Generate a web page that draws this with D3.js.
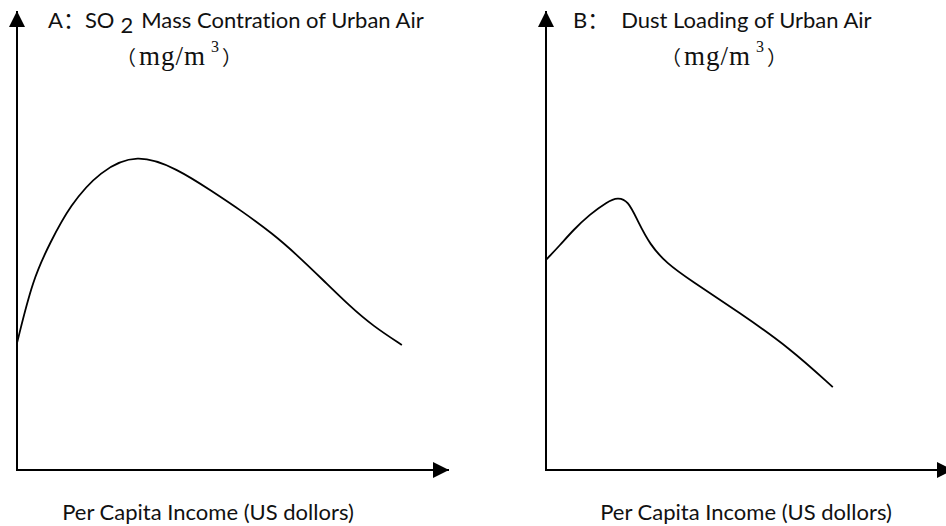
<!DOCTYPE html>
<html>
<head>
<meta charset="utf-8">
<script src="https://cdn.jsdelivr.net/npm/d3@7"></script>
<style>
  body { margin: 0; background: #fff; }
  .lbl { font-family: Lato, "Open Sans", sans-serif; font-size: 22px; fill: #111; font-variant-ligatures: none; }
  .unit { font-family: "Liberation Serif", "Times New Roman", serif; font-size: 27px; fill: #111; }
  .cjk { font-family: "Noto Sans CJK SC", sans-serif; }
</style>
</head>
<body>
<script>
// Panel A: SO2 mass concentration vs per capita income (arbitrary units, 0-100)
const incomeA = [0, 3.7, 7.7, 12.3, 19.3, 27.9, 37.2, 45.6, 51.9, 59.5, 65.1, 71.2, 77.4, 82.8, 89.5];
const so2A    = [28.2, 42.5, 50.5, 58.8, 66.5, 70.4, 67, 61.8, 57.8, 52.5, 47.8, 42.2, 36.4, 32, 27.8];

// Panel B: dust loading vs per capita income
const incomeB = [0, 3.3, 6.3, 10.2, 14.2, 16.7, 19.1, 21.2, 24.2, 28.1, 33.5, 45.1, 56.7, 66.7];
const dustB   = [46.7, 50, 53.3, 56.8, 59.6, 60.6, 59.8, 55.6, 50, 45.9, 42.2, 34.9, 27.1, 18.4];

const xLabel = 'Per Capita Income (US dollors)';

const width = 946, height = 526;
const svg = d3.select('body').append('svg')
    .attr('width', width)
    .attr('height', height);

svg.append('defs').append('marker')
    .attr('id', 'arrow')
    .attr('viewBox', '0 0 10 10')
    .attr('refX', 10).attr('refY', 5)
    .attr('markerUnits', 'userSpaceOnUse')
    .attr('markerWidth', 16).attr('markerHeight', 16)
    .attr('orient', 'auto')
    .append('path')
    .attr('d', 'M0,0 L10,5 L0,10 Z')
    .attr('fill', '#000');

const pxPerUnit = 4.3;
const yScale = d3.scaleLinear().domain([0, 100]).range([470, 20]);

function drawPanel(x0, axisEnd, xs, ys, titleParts, titleX, unitX, labelX) {
    const xScale = d3.scaleLinear().domain([0, 100]).range([x0, x0 + 100 * pxPerUnit]);
    const g = svg.append('g');

    // axes with arrows
    g.append('line')
        .attr('x1', x0).attr('y1', yScale(0))
        .attr('x2', x0).attr('y2', 11)
        .attr('stroke', '#000').attr('stroke-width', 2)
        .attr('marker-end', 'url(#arrow)');
    g.append('line')
        .attr('x1', x0 - 1).attr('y1', yScale(0))
        .attr('x2', axisEnd).attr('y2', yScale(0))
        .attr('stroke', '#000').attr('stroke-width', 2)
        .attr('marker-end', 'url(#arrow)');

    const pts = xs.map((v, i) => [v, ys[i]]);
    const line = d3.line()
        .x(d => xScale(d[0]))
        .y(d => yScale(d[1]))
        .curve(d3.curveBasis);
    g.append('path')
        .datum(pts)
        .attr('d', line)
        .attr('fill', 'none')
        .attr('stroke', '#000')
        .attr('stroke-width', 1.8);

    // title
    const t = g.append('text').classed('lbl', true)
        .attr('x', titleX).attr('y', 28);
    titleParts(t);

    // unit line
    const u = g.append('text').classed('unit', true)
        .attr('x', unitX).attr('y', 65);
    u.append('tspan').classed('cjk', true).style('font-size', '20px').text('（');
    u.append('tspan').attr('dx', 3).style('letter-spacing', '1px').text('mg/m');
    u.append('tspan').style('font-size', '16px').attr('dy', -13).attr('dx', 5).text('3');
    u.append('tspan').classed('cjk', true).style('font-size', '20px').attr('dy', 13).attr('dx', 3).text('）');

    // x label
    g.append('text').classed('lbl', true)
        .attr('x', labelX).attr('y', 520)
        .attr('text-anchor', 'middle')
        .text(xLabel);
}

drawPanel(17, 449, incomeA, so2A, t => {
    t.append('tspan').text('A');
    t.append('tspan').classed('cjk', true).text('：');
    t.append('tspan').text('SO');
    t.append('tspan').attr('dy', 5).attr('dx', 6).text('2');
    t.append('tspan').attr('dy', -5).attr('dx', 8).text('Mass Contration of Urban Air');
}, 48, 116, 208);

drawPanel(546, 953, incomeB, dustB, t => {
    t.append('tspan').text('B');
    t.append('tspan').classed('cjk', true).text('：');
    t.append('tspan').attr('dx', 12).text('Dust Loading of Urban Air');
}, 573, 661, 746);
</script>
</body>
</html>
